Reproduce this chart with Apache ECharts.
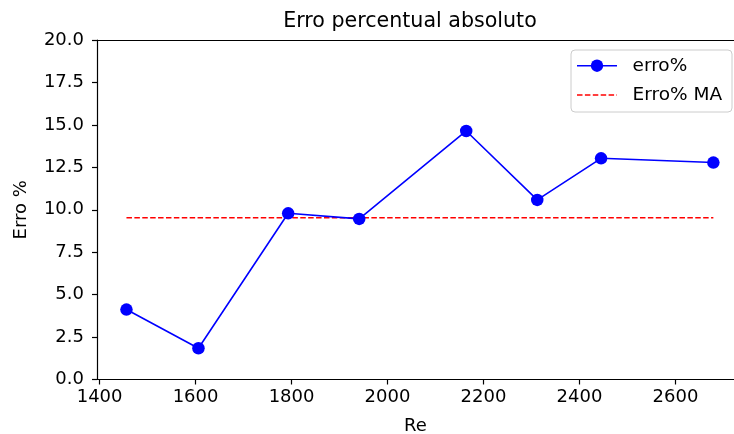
<!DOCTYPE html>
<html>
<head>
<meta charset="utf-8">
<script src="https://cdn.jsdelivr.net/npm/echarts@6/dist/echarts.min.js"></script>
<style>html,body{margin:0;padding:0;background:#fff}#c{width:734px;height:434px}</style>
</head>
<body>
<div id="c"></div>
<script>
const reValues = [1456, 1606, 1793, 1941, 2164, 2312, 2445, 2679];
const erroValues = [4.12, 1.84, 9.79, 9.46, 14.64, 10.58, 13.03, 12.78];
const erroMA = 9.53;
const titleText = 'Erro percentual absoluto';
const xName = 'Re';
const yName = 'Erro %';
const seriesNames = ['erro%', 'Erro% MA'];
const xTicks = [1400, 1600, 1800, 2000, 2200, 2400, 2600];

const F = 'DejaVu Sans';
const FS = 18;
const chart = echarts.init(document.getElementById('c'), null, {renderer: 'canvas'});
const erroData = reValues.map((x, i) => [x, erroValues[i]]);
const maData = [[reValues[0], erroMA], [reValues[reValues.length - 1], erroMA]];

chart.setOption({
  animation: false,
  backgroundColor: '#fff',
  title: {
    text: titleText, left: 405, top: 6, textAlign: 'center',
    textStyle: {fontFamily: F, fontSize: 20.6, fontWeight: 'normal', color: '#000'}
  },
  graphic: [
    {type: 'rect', shape: {x: 571, y: 50, width: 161, height: 62, r: 4},
     style: {fill: 'rgba(255,255,255,0.8)', stroke: '#cccccc', lineWidth: 1}, z: 10},
    {type: 'line', shape: {x1: 577, y1: 65.7, x2: 617, y2: 65.7},
     style: {stroke: '#0000ff', lineWidth: 1.6}, z: 11},
    {type: 'circle', shape: {cx: 597, cy: 65.7, r: 6.2},
     style: {fill: '#0000ff'}, z: 11},
    {type: 'text', x: 632.5, y: 65.7,
     style: {text: seriesNames[0], fontFamily: F, fontSize: 18.5, fill: '#000', verticalAlign: 'middle'}, z: 11},
    {type: 'line', shape: {x1: 577, y1: 95, x2: 617, y2: 95},
     style: {stroke: '#ff0000', lineWidth: 1.6, lineDash: [5.5, 2.4]}, z: 11},
    {type: 'text', x: 632.5, y: 95,
     style: {text: seriesNames[1], fontFamily: F, fontSize: 18.5, fill: '#000', verticalAlign: 'middle'}, z: 11}
  ],
  grid: {left: 97, right: 0, top: 40, bottom: 54.5, containLabel: false, outerBoundsMode: 'none'},
  xAxis: [{
    type: 'value', min: 1394.6, max: 2722, position: 'bottom',
    name: xName, nameLocation: 'middle', nameGap: 38,
    nameTextStyle: {fontFamily: F, fontSize: FS, color: '#000'},
    axisLine: {show: true, onZero: false, lineStyle: {color: '#000', width: 1.2}},
    axisTick: {show: true, length: 5, lineStyle: {color: '#000', width: 1.2},
      customValues: xTicks},
    axisLabel: {fontFamily: F, fontSize: FS, color: '#000', margin: 9,
      customValues: xTicks, formatter: v => String(v)},
    splitLine: {show: false}
  }, {
    type: 'value', min: 1394.6, max: 2722, position: 'top',
    axisLine: {show: true, onZero: false, lineStyle: {color: '#000', width: 1.2}},
    axisTick: {show: false}, axisLabel: {show: false}, splitLine: {show: false}
  }],
  yAxis: {
    type: 'value', min: 0, max: 20, interval: 2.5,
    name: yName, nameLocation: 'middle', nameGap: 67, nameRotate: 90,
    nameTextStyle: {fontFamily: F, fontSize: FS, color: '#000'},
    axisLine: {show: true, onZero: false, lineStyle: {color: '#000', width: 1.2}},
    axisTick: {show: true, length: 5, lineStyle: {color: '#000', width: 1.2}},
    axisLabel: {fontFamily: F, fontSize: FS, color: '#000', margin: 13,
      formatter: v => v.toFixed(1)},
    splitLine: {show: false}
  },
  series: [{
    name: seriesNames[0], type: 'line', data: erroData,
    symbol: 'circle', symbolSize: 12.5,
    itemStyle: {color: '#0000ff'},
    lineStyle: {color: '#0000ff', width: 1.6}, z: 3
  }, {
    name: seriesNames[1], type: 'line', data: maData,
    symbol: 'none',
    itemStyle: {color: '#ff0000'},
    lineStyle: {color: '#ff0000', width: 1.6, type: [5.5, 2.4]}, z: 2
  }]
});
</script>
</body>
</html>
